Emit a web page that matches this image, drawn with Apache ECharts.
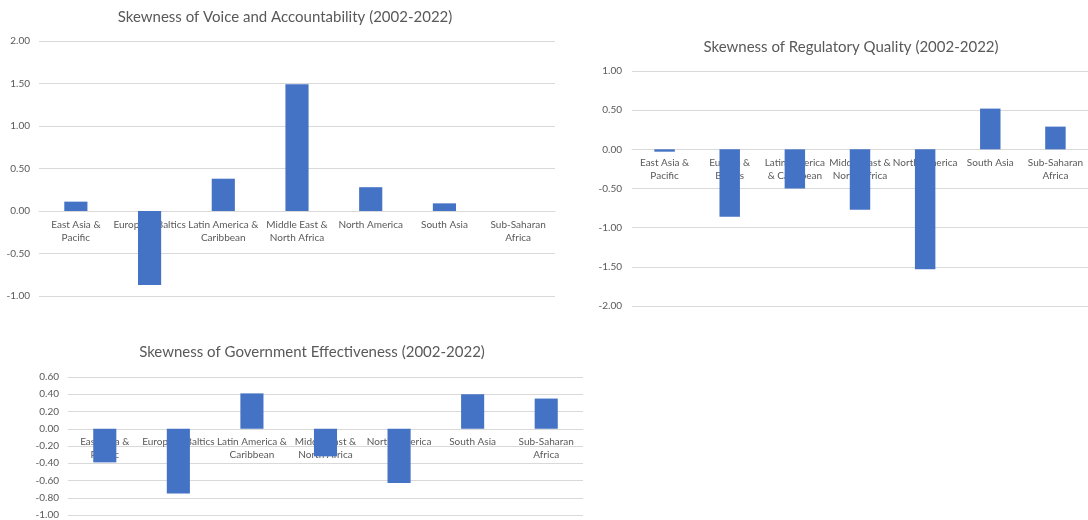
<!DOCTYPE html>
<html>
<head>
<meta charset="utf-8">
<script src="https://cdn.jsdelivr.net/npm/echarts@6/dist/echarts.min.js"></script>
<style>
  html, body { margin: 0; padding: 0; background: #fff; }
  #chart { width: 1088px; height: 520px; }
</style>
</head>
<body>
<div id="chart"></div>
<script>
// regions (same order in all three charts)
const regions = ['East Asia & Pacific', 'Europe & Baltics', 'Latin America & Caribbean',
    'Middle East & North Africa', 'North America', 'South Asia', 'Sub-Saharan Africa'];

// axis labels as they wrap in each chart
const labelsWide = ['East Asia &\nPacific', 'Europe & Baltics', 'Latin America &\nCaribbean',
    'Middle East &\nNorth Africa', 'North America', 'South Asia', 'Sub-Saharan\nAfrica'];
const labelsNarrow = ['East Asia &\nPacific', 'Europe &\nBaltics', 'Latin America\n& Caribbean',
    'Middle East &\nNorth Africa', 'North America', 'South Asia', 'Sub-Saharan\nAfrica'];

// skewness values
const voiceValues = [0.11, -0.87, 0.38, 1.49, 0.28, 0.09, 0.00];
const regulatoryValues = [-0.03, -0.86, -0.50, -0.77, -1.53, 0.52, 0.29];
const governmentValues = [-0.39, -0.75, 0.41, -0.32, -0.63, 0.40, 0.35];

const titles = [
    'Skewness of Voice and Accountability (2002-2022)',
    'Skewness of Regulatory Quality (2002-2022)',
    'Skewness of Government Effectiveness (2002-2022)'
];

const FONT = 'Lato, "Open Sans", sans-serif';
const TEXT = '#595959';
const GRID = '#d9d9d9';
const BAR = '#4472C4';

// grid boxes
const grids = [
    { left: 39, top: 41, width: 516, height: 255 },
    { left: 632, top: 71, width: 465, height: 235 },
    { left: 68, top: 377, width: 515, height: 138 }
];
// value ranges [min, max, interval]
const ranges = [[-1, 2, 0.5], [-2, 1, 0.5], [-1, 0.6, 0.2]];

const myEcharts = echarts.init(document.getElementById('chart'));

// category axis sits on the zero line (Excel style), labels included
function xAxisFor(i, labels) {
    const [min, max] = ranges[i];
    const zeroOffset = -grids[i].height * (0 - min) / (max - min);
    return {
        type: 'category',
        gridIndex: i,
        data: regions,
        offset: zeroOffset,
        axisLine: { show: true, onZero: false, lineStyle: { color: GRID, width: 1 } },
        axisTick: { show: false },
        axisLabel: {
            color: TEXT,
            fontFamily: FONT,
            fontSize: 10,
            lineHeight: 13,
            margin: 7,
            interval: 0,
            formatter: (v, idx) => labels[idx]
        }
    };
}

function yAxisFor(i, margin) {
    const [min, max, interval] = ranges[i];
    return {
        type: 'value',
        gridIndex: i,
        min: min,
        max: max,
        interval: interval,
        axisLine: { show: false },
        axisTick: { show: false },
        splitLine: { show: true, lineStyle: { color: GRID, width: 1 } },
        axisLabel: {
            color: TEXT,
            fontFamily: FONT,
            fontSize: 10,
            margin: margin,
            formatter: v => v.toFixed(2)
        }
    };
}

function titleFor(text, x, y) {
    return {
        text: text,
        left: x,
        top: y,
        textAlign: 'center',
        padding: 0,
        textStyle: { color: TEXT, fontFamily: FONT, fontSize: 15, fontWeight: 'normal' }
    };
}

function barFor(index, data) {
    return {
        type: 'bar',
        xAxisIndex: index,
        yAxisIndex: index,
        barWidth: '31.4%',
        itemStyle: { color: BAR },
        data: data
    };
}

const option = {
    animation: false,
    title: [
        titleFor(titles[0], 285, 10),
        titleFor(titles[1], 851, 40),
        titleFor(titles[2], 312, 345)
    ],
    grid: grids,
    xAxis: [
        xAxisFor(0, labelsWide),
        xAxisFor(1, labelsNarrow),
        xAxisFor(2, labelsWide)
    ],
    yAxis: [
        yAxisFor(0, 9),
        yAxisFor(1, 10),
        yAxisFor(2, 9)
    ],
    series: [
        barFor(0, voiceValues),
        barFor(1, regulatoryValues),
        barFor(2, governmentValues)
    ]
};

myEcharts.setOption(option);
</script>
</body>
</html>
